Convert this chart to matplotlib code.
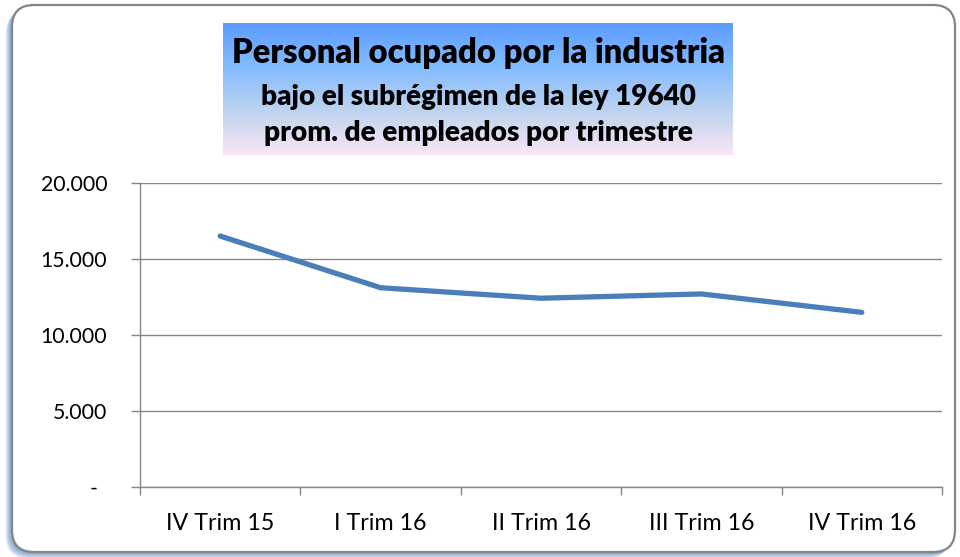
import matplotlib
matplotlib.use("Agg")
import matplotlib.pyplot as plt
import numpy as np
from matplotlib.patches import FancyBboxPatch
from matplotlib.colors import LinearSegmentedColormap
from matplotlib.transforms import ScaledTranslation

categories = ["IV Trim 15", "I Trim 16", "II Trim 16", "III Trim 16", "IV Trim 16"]
values = [16490, 13090, 12400, 12680, 11470]
ytick_values = [0, 5000, 10000, 15000, 20000]
ytick_labels = ["-", "5.000", "10.000", "15.000", "20.000"]
title_lines = ["Personal ocupado por la industria",
               "bajo el subrégimen de la ley 19640",
               "prom. de empleados por trimestre"]

FONT = ["Lato", "DejaVu Sans"]
plt.rcParams["font.family"] = FONT

W, H = 960, 557
fig = plt.figure(figsize=(W / 100, H / 100), dpi=100)

# background / frame axes in pixel coords
bg = fig.add_axes([0, 0, 1, 1], zorder=0)
bg.set_xlim(0, W)
bg.set_ylim(H, 0)
bg.axis("off")

# shadow
for k in range(1, 8):
    bg.add_patch(FancyBboxPatch((12 - k * 0.9, 5 + k * 0.9), 943, 547,
                                boxstyle="round,pad=0,rounding_size=22",
                                fc="#4F81BD", ec="none", alpha=0.15))
bg.add_patch(FancyBboxPatch((12, 5), 943, 547,
                            boxstyle="round,pad=0,rounding_size=22",
                            fc="white", ec="#858585", lw=1.6))

# title gradient box
cmap = LinearSegmentedColormap.from_list(
    "tb", [(0.0, "#5C9CFF"), (0.35, "#86BDFF"), (0.7, "#C4D5EE"), (1.0, "#FAE6F8")])
grad = np.linspace(0, 1, 256).reshape(-1, 1)
bg.imshow(grad, extent=[223, 733, 155, 23], aspect="auto", cmap=cmap,
          origin="upper", zorder=2)
bg.set_xlim(0, W)
bg.set_ylim(H, 0)

t1 = bg.text(478, 53, title_lines[0], ha="center", va="center",
             fontsize=22, fontweight="heavy", color="black", zorder=3)
t2 = bg.text(478, 97, title_lines[1], ha="center", va="center",
             fontsize=17, fontweight="heavy", color="black", zorder=3)
t3 = bg.text(478, 133, title_lines[2], ha="center", va="center",
             fontsize=17, fontweight="heavy", color="black", zorder=3)

# main axes
left, right = 140, 942
top, bottom = 182.7, 486.7
ax = fig.add_axes([left / W, 1 - bottom / H, (right - left) / W, (bottom - top) / H], zorder=1)
ax.patch.set_alpha(0)

x = np.arange(len(categories))
ax.plot(x, values, color="#4A7EBB", lw=3.8, solid_capstyle="round",
        solid_joinstyle="round", zorder=3)

ax.set_xlim(-0.5, len(categories) - 0.5)
ax.set_ylim(0, 20000)
ax.set_yticks(ytick_values)
ax.set_yticklabels(ytick_labels)
ax.set_xticks(x)
ax.set_xticklabels(categories)
ax.set_xticks(np.arange(-0.5, len(categories)), minor=True)

ax.grid(axis="y", color="#868686", lw=1.0, zorder=0)
ax.set_axisbelow(True)
for s in ["top", "right"]:
    ax.spines[s].set_visible(False)
for s in ["left", "bottom"]:
    ax.spines[s].set_color("#868686")
    ax.spines[s].set_linewidth(1.0)

ax.tick_params(axis="y", which="major", length=6.5, width=1.0, color="#868686",
               pad=17, labelsize=15, labelcolor="black")
ax.tick_params(axis="x", which="major", length=0, pad=19, labelsize=15, labelcolor="black")
ax.tick_params(axis="x", which="minor", length=5.5, width=1.0, color="#868686")

# fit text sizes to measured widths
fig.canvas.draw()
r = fig.canvas.get_renderer()

def fit(t, target):
    bb = t.get_window_extent(r)
    t.set_fontsize(t.get_fontsize() * target / bb.width)

fit(t1, 492)
fit(t2, 433)
fit(t3, 430)

xl = ax.get_xticklabels()
bbw = xl[0].get_window_extent(r).width
xs = 15 * 108 / bbw
yl = ax.get_yticklabels()
bbw = yl[-1].get_window_extent(r).width
ys = 15 * 67 / bbw
ax.tick_params(axis="x", which="major", labelsize=xs)
ax.tick_params(axis="y", which="major", labelsize=ys)

# accounting-style dash offset
dash = ax.get_yticklabels()[0]
dash.set_transform(dash.get_transform() + ScaledTranslation(-10 / 100, 0, fig.dpi_scale_trans))

fig.savefig("out.png", dpi=100)
